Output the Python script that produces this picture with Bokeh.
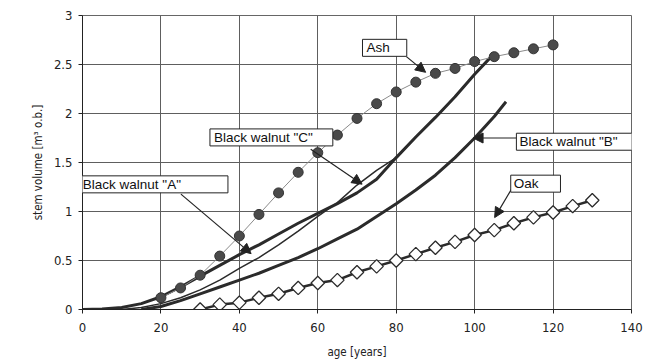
from bokeh.plotting import figure
from bokeh.models import Range1d, Label, Arrow, NormalHead, FixedTicker
from bokeh.embed import file_html
from bokeh.resources import INLINE
import numpy as np

# ---------------- data ----------------
ash_age = [20, 25, 30, 35, 40, 45, 50, 55, 60, 65, 70, 75, 80, 85, 90, 95, 100, 105, 110, 115, 120]
ash_vol = [0.12, 0.22, 0.35, 0.545, 0.75, 0.97, 1.19, 1.40, 1.60, 1.78, 1.95, 2.10, 2.22, 2.32,
           2.41, 2.46, 2.53, 2.58, 2.62, 2.66, 2.70]

oak_age = [30, 35, 40, 45, 50, 55, 60, 65, 70, 75, 80, 85, 90, 95, 100, 105, 110, 115, 120, 125, 130]
oak_vol = [0.0, 0.05, 0.07, 0.12, 0.16, 0.22, 0.27, 0.30, 0.38, 0.44, 0.50, 0.565, 0.63, 0.69,
           0.76, 0.81, 0.88, 0.94, 0.99, 1.055, 1.115]

wa_age = [0, 5, 10, 15, 20, 25, 30, 35, 40, 45, 50, 55, 60, 65, 70, 75, 80, 85, 90, 95, 100, 104]
wa_vol = [0.0, 0.005, 0.02, 0.06, 0.13, 0.23, 0.34, 0.45, 0.56, 0.66, 0.77, 0.88, 0.98, 1.08,
          1.19, 1.33, 1.55, 1.76, 1.96, 2.17, 2.40, 2.57]

wc_age = [0, 10, 15, 20, 25, 30, 35, 40, 45, 50, 55, 60, 65, 70, 75, 80, 85, 90, 95, 100, 104]
wc_vol = [0.0, 0.0, 0.02, 0.06, 0.12, 0.20, 0.30, 0.42, 0.53, 0.66, 0.80, 0.95, 1.09, 1.27,
          1.42, 1.55, 1.76, 1.96, 2.17, 2.40, 2.57]

wb_age = [15, 20, 25, 30, 35, 40, 45, 50, 55, 60, 65, 70, 75, 80, 85, 90, 95, 100, 105, 108]
wb_vol = [0.0, 0.03, 0.09, 0.16, 0.23, 0.30, 0.37, 0.45, 0.53, 0.62, 0.72, 0.82, 0.95, 1.08,
          1.22, 1.37, 1.55, 1.75, 1.97, 2.12]

x_ticks = [0, 20, 40, 60, 80, 100, 120, 140]
y_ticks = [0, 0.5, 1, 1.5, 2, 2.5, 3]

# annotation callouts: text, box-left x, box-middle y, padding (l, r), arrow start, arrow end
callouts = [
    ('Ash',               71.4, 2.67,  4, 17, (82.6, 2.58), (87.5, 2.42)),
    ('Black walnut "C"',  32.5, 1.756, 4, 20, (58.2, 1.636), (71.3, 1.279)),
    ('Black walnut "A"',  -0.94, 1.277, 4, 47, (25.1, 1.177), (43.0, 0.57)),
    ('Black walnut "B"',  110.65, 1.712, 3, 20, (110.7, 1.75), (99.6, 1.75)),
    ('Oak',               109.2, 1.284, 3, 22, (109.4, 1.228), (105.1, 0.938)),
]

# ---------------- figure ----------------
p = figure(width=650, height=361, output_backend="svg", toolbar_location=None,
           x_range=Range1d(0, 140), y_range=Range1d(0, 3),
           min_border_left=82, min_border_right=19, min_border_top=15, min_border_bottom=52)

p.background_fill_color = "white"
p.border_fill_color = "white"
p.outline_line_color = "#666666"

tick_font = "DejaVu Sans Condensed, DejaVu Sans"
for ax in (p.xaxis[0], p.yaxis[0]):
    ax.major_label_text_font = tick_font
    ax.major_label_text_font_size = "13px"
    ax.major_label_text_color = "#222222"
    ax.axis_label_text_font = tick_font
    ax.axis_label_text_font_size = "11.5px"
    ax.axis_label_text_font_style = "normal"
    ax.axis_label_text_color = "#222222"
    ax.minor_tick_line_color = None
    ax.major_tick_in = 0
    ax.major_tick_out = 4
    ax.axis_line_color = "#222222"
    ax.major_tick_line_color = "#222222"

p.xaxis.ticker = FixedTicker(ticks=x_ticks)
p.yaxis.ticker = FixedTicker(ticks=y_ticks)
p.xaxis.axis_label = "age [years]"
p.yaxis.axis_label = "stem volume [m\u00b3 o.b.]"
p.xaxis.major_label_standoff = 9
p.xaxis.axis_label_standoff = 10
p.yaxis.major_label_standoff = 6
p.yaxis.axis_label_standoff = 6

p.xgrid.grid_line_color = "#5e5e5e"
p.ygrid.grid_line_color = "#5e5e5e"
p.xgrid.grid_line_width = 1
p.ygrid.grid_line_width = 1

dark = "#2b2b2b"

# Oak (diamonds on thick line)
p.line(oak_age, oak_vol, line_color=dark, line_width=2.5)
p.scatter(oak_age, oak_vol, marker="square", angle=np.pi / 4, size=9.5,
          fill_color="white", line_color=dark, line_width=1.3)

# Black walnut curves
p.line(wb_age, wb_vol, line_color=dark, line_width=3)
p.line(wa_age, wa_vol, line_color=dark, line_width=3)
p.line(wc_age, wc_vol, line_color=dark, line_width=1.5)

# Ash (circles on thin grey line)
p.line(ash_age, ash_vol, line_color="#8a8a8a", line_width=1)
p.scatter(ash_age, ash_vol, marker="circle", size=10, fill_color="#4a4a4a",
          line_color="#333333", line_width=1)

# callouts
for txt, tx, ty, pl, pr, (xs, ys), (xe, ye) in callouts:
    p.add_layout(Arrow(x_start=xs, y_start=ys, x_end=xe, y_end=ye,
                       line_color="#222222", line_width=1.2,
                       end=NormalHead(size=10, fill_color="#222222", line_color="#222222")))
    p.add_layout(Label(x=tx, y=ty, text=txt, text_align="left", text_baseline="middle",
                       text_font="Liberation Sans", text_font_size="13.5px", text_color="#111111",
                       background_fill_color="white", border_line_color="#222222",
                       border_line_width=1,
                       padding=dict(left=pl, right=pr, top=1, bottom=1)))

open("out.html", "w").write(file_html(p, INLINE))
